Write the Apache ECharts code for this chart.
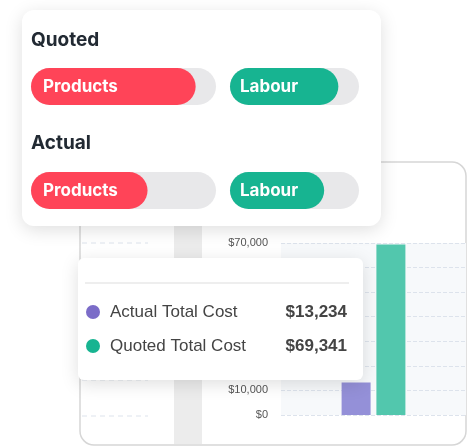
<!DOCTYPE html>
<html>
<head>
<meta charset="utf-8">
<script src="https://cdn.jsdelivr.net/npm/echarts@6/dist/echarts.min.js"></script>
<style>html,body{margin:0;padding:0;background:#fff}#main{width:468px;height:447px}</style>
</head>
<body>
<div id="main"></div>
<script>
// job cost chart
var costNames = ['Actual Total Cost', 'Quoted Total Cost'];
var costValues = [13234, 69341];
var costColors = ['#9490d8', '#52c7ad'];
var yTicks = [0, 10000, 70000];

// progress pills
var pillNames = ['Products', 'Labour', 'Products', 'Labour'];
var pillValues = [89, 84, 63, 73];
var pillColors = ['#ff4458', '#17b491', '#ff4458', '#17b491'];
var pillBoxes = [[31, 68, 185], [230, 68, 129], [31, 172, 185], [230, 172, 129]];

var myChart = echarts.init(document.getElementById('main'));

var grids = [{ left: 281, top: 243, width: 185, height: 172, backgroundColor: '#f7f9fb', show: true, borderWidth: 0 }];
var xAxes = [{ type: 'category', data: ['', 'job', ''], gridIndex: 0, axisLine: { show: false }, axisTick: { show: false }, axisLabel: { show: false } }];
var yAxes = [{
    type: 'value', gridIndex: 0, min: 0, max: 70000, interval: 10000, z: 1,
    axisLabel: { color: '#555', fontSize: 11, fontFamily: 'Liberation Sans', margin: 13,
        formatter: function (v) { return yTicks.indexOf(v) >= 0 ? '$' + v.toLocaleString('en-US') : ''; } },
    splitLine: { lineStyle: { type: 'dashed', color: '#dde3ec' } }
}];
var series = [];
costNames.forEach(function (n, i) {
    series.push({
        type: 'bar', name: n, xAxisIndex: 0, yAxisIndex: 0, barWidth: 29, barGap: '20%', z: 2,
        data: [null, costValues[i], null], itemStyle: { color: costColors[i] }
    });
});

pillNames.forEach(function (n, i) {
    var b = pillBoxes[i], k = i + 1;
    grids.push({ left: b[0], top: b[1], width: b[2], height: 37, z: 20 });
    xAxes.push({ type: 'value', gridIndex: k, min: 0, max: 100, show: false });
    yAxes.push({ type: 'category', gridIndex: k, data: [n], show: false });
    series.push({
        type: 'bar', xAxisIndex: k, yAxisIndex: k, barWidth: 37, z: 20,
        data: [pillValues[i]], showBackground: true,
        backgroundStyle: { color: '#e8e8ea', borderRadius: 19 },
        itemStyle: { color: pillColors[i], borderRadius: 19 },
        label: { show: true, position: 'insideLeft', offset: [i % 2 ? 5 : 7, 0], formatter: n,
            color: '#fff', fontSize: 17, fontWeight: 'bold', fontFamily: 'Inter' }
    });
});

var shadow = { shadowBlur: 18, shadowColor: 'rgba(0,0,0,0.13)', shadowOffsetY: 4 };
var tipText = { fontSize: 17, fontFamily: 'Liberation Sans', fill: '#444' };

option = {
    animation: false,
    grid: grids, xAxis: xAxes, yAxis: yAxes, series: series,
    graphic: [
        { type: 'rect', z: -10, shape: { x: 80, y: 162, width: 386, height: 283, r: 14 }, style: { fill: '#fff', stroke: '#d6d6d6', lineWidth: 1.5 } },
        { type: 'rect', z: -9, shape: { x: 174, y: 226, width: 28, height: 218 }, style: { fill: '#ececec' } },
        { type: 'line', z: -9, shape: { x1: 82, y1: 243, x2: 148, y2: 243 }, style: { stroke: '#dde3ec', lineDash: [5, 4] } },
        { type: 'line', z: -9, shape: { x1: 82, y1: 380, x2: 148, y2: 380 }, style: { stroke: '#dde3ec', lineDash: [5, 4] } },
        { type: 'line', z: -9, shape: { x1: 82, y1: 416, x2: 148, y2: 416 }, style: { stroke: '#dde3ec', lineDash: [5, 4] } },
        // tooltip card
        { type: 'rect', z: 10, shape: { x: 78, y: 258, width: 285, height: 122, r: 6 }, style: Object.assign({ fill: '#fff' }, shadow) },
        { type: 'line', z: 11, shape: { x1: 85, y1: 283, x2: 349, y2: 283 }, style: { stroke: '#ddd', lineWidth: 1 } },
        { type: 'circle', z: 11, shape: { cx: 93, cy: 312, r: 7 }, style: { fill: '#7b6cc8' } },
        { type: 'circle', z: 11, shape: { cx: 93, cy: 346, r: 7 }, style: { fill: '#17b491' } },
        { type: 'text', z: 11, x: 110, y: 312, style: Object.assign({ text: costNames[0], verticalAlign: 'middle' }, tipText) },
        { type: 'text', z: 11, x: 110, y: 346, style: Object.assign({ text: costNames[1], verticalAlign: 'middle' }, tipText) },
        { type: 'text', z: 11, x: 347, y: 312, style: Object.assign({}, tipText, { text: '$' + costValues[0].toLocaleString('en-US'), align: 'right', verticalAlign: 'middle', fontWeight: 'bold' }) },
        { type: 'text', z: 11, x: 347, y: 346, style: Object.assign({}, tipText, { text: '$' + costValues[1].toLocaleString('en-US'), align: 'right', verticalAlign: 'middle', fontWeight: 'bold' }) },
        // front card
        { type: 'rect', z: 15, shape: { x: 22, y: 10, width: 359, height: 216, r: 12 }, style: Object.assign({ fill: '#fff' }, shadow) },
        { type: 'text', z: 16, x: 31, y: 40, style: { text: 'Quoted', fontSize: 19, fontWeight: 'bold', fontFamily: 'Inter', fill: '#222a33', verticalAlign: 'middle' } },
        { type: 'text', z: 16, x: 31, y: 143, style: { text: 'Actual', fontSize: 19, fontWeight: 'bold', fontFamily: 'Inter', fill: '#222a33', verticalAlign: 'middle' } }
    ]
};
myChart.setOption(option);
</script>
</body>
</html>
